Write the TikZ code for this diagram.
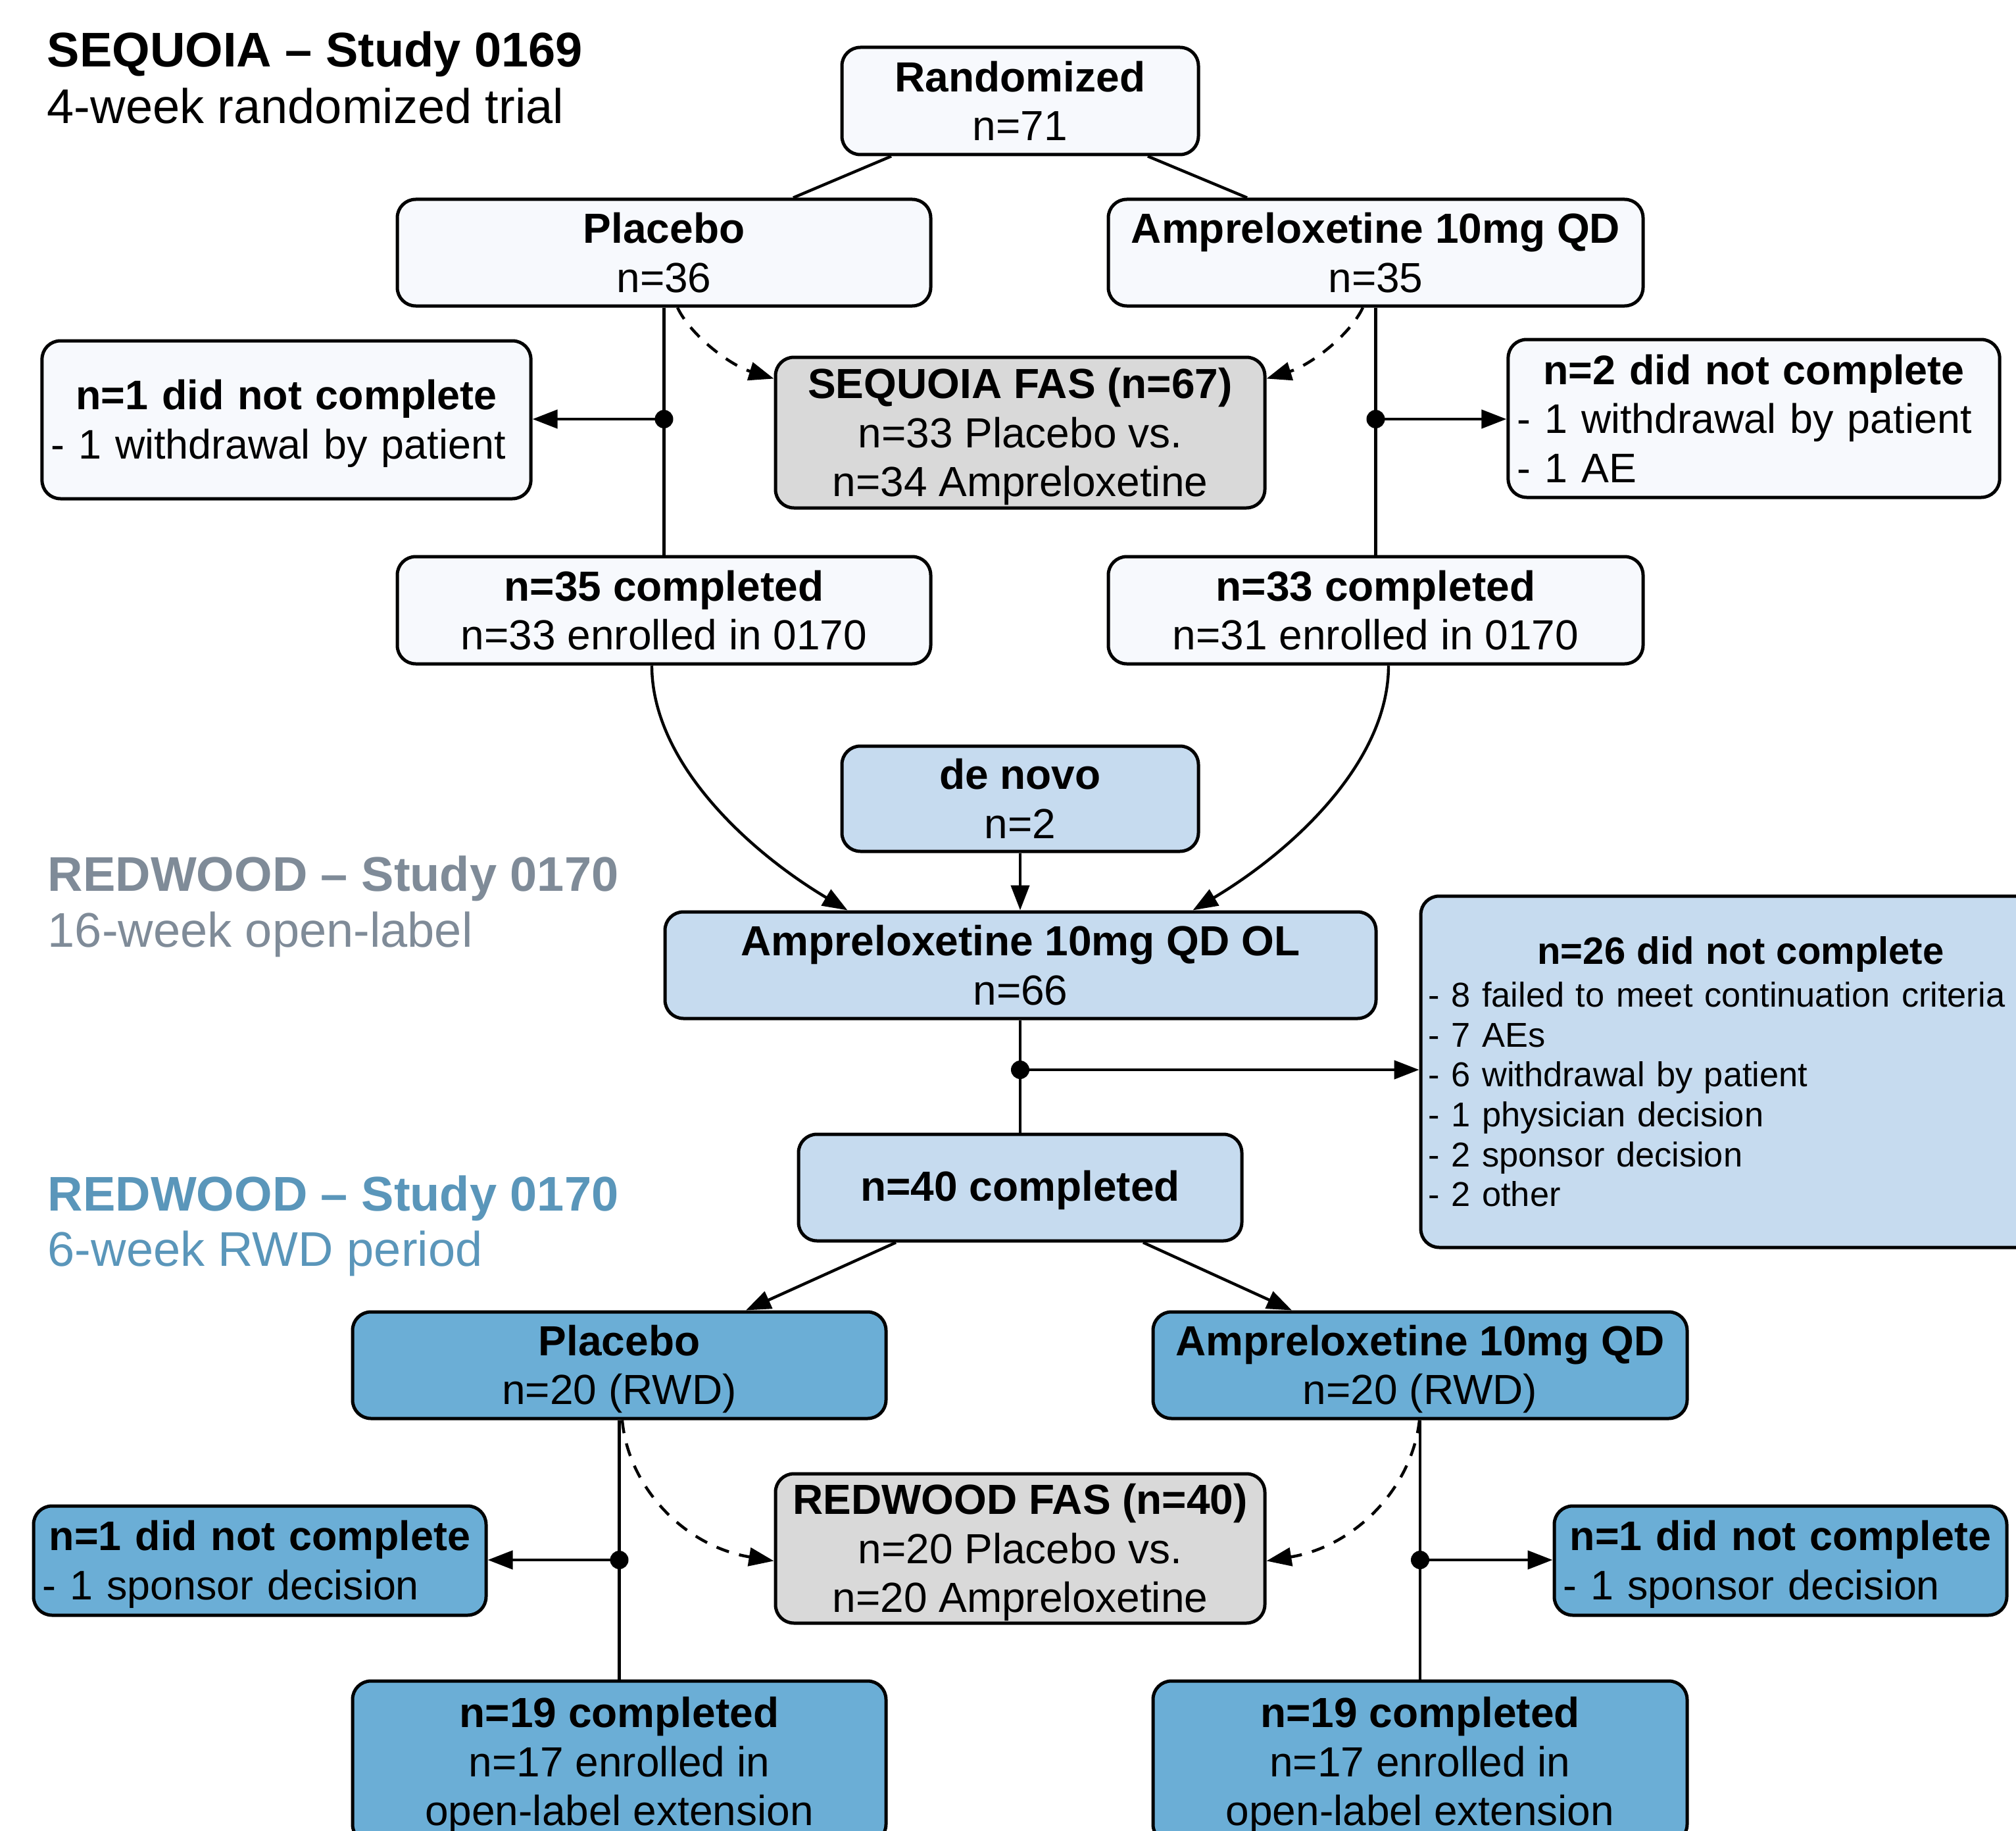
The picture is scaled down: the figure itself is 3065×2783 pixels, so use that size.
\documentclass[tikz,border=0pt]{standalone}
\usepackage{fontspec}
\setmainfont{Liberation Sans}
\usetikzlibrary{arrows.meta,calc}
\definecolor{boxlight}{HTML}{F7F9FD}
\definecolor{boxgray}{HTML}{D9D9D9}
\definecolor{boxlb}{HTML}{C6DBEF}
\definecolor{boxmb}{HTML}{6BAED6}
\definecolor{titlegray}{HTML}{7F8B98}
\definecolor{titleblue}{HTML}{5A96BA}
\newcommand\upstrut[1]{\rule{0pt}{#1}}
\begin{document}
\begin{tikzpicture}[x=0.25pt,y=-0.25pt,
  box/.style={draw=black, line width=1.25pt, rounded corners=7pt, align=center, inner sep=0pt, font=\fontsize{16}{18.6}\selectfont},
  wbox/.style={box, fill=boxlight},
  gbox/.style={box, fill=boxgray},
  lbbox/.style={box, fill=boxlb},
  mbbox/.style={box, fill=boxmb},
  listbox/.style={align=left, inner xsep=3.4pt, inner ysep=0pt, font=\fontsize{15.7}{18.6}\selectfont},
  conn/.style={line width=1.1pt},
  arr/.style={conn, -{Triangle[length=9.5pt,width=7pt]}},
  darr/.style={arr, dash pattern=on 5pt off 4pt},
  harr/.style={line width=1.2pt, -{Triangle[length=9.5pt,width=7pt]}},
  titlebf/.style={anchor=base west, inner sep=0pt, font=\fontsize{18.5}{21.5}\selectfont\bfseries},
  titlerg/.style={anchor=base west, inner sep=0pt, font=\fontsize{18.5}{21.5}\selectfont},
]
\useasboundingbox (0,0) rectangle (3065,2783);
\fill[white] (0,0) rectangle (3065,2783);
\clip (0,0) rectangle (3065,2783);

% titles
\node[titlebf] (t1a) at (71,102) {SEQUOIA – Study 0169};
\node[titlerg] (t1b) at (71,188) {4-week randomized trial};
\node[titlebf, text=titlegray] (t2a) at (72,1354) {REDWOOD – Study 0170};
\node[titlerg, text=titlegray] (t2b) at (72,1439) {16-week open-label};
\node[titlebf, text=titleblue] (t3a) at (72,1840) {REDWOOD – Study 0170};
\node[titlerg, text=titleblue] (t3b) at (72,1924) {6-week RWD period};

% SEQUOIA
\node[wbox, minimum width=135.5pt, minimum height=40.75pt] (rand) at (1551,153.5) {\textbf{Randomized}\\n=71};
\node[wbox, minimum width=202.75pt, minimum height=40.5pt] (plcA) at (1009.5,384) {\textbf{Placebo}\\n=36};
\node[wbox, minimum width=203.25pt, minimum height=40.5pt] (ampA) at (2091.5,384) {\textbf{Ampreloxetine 10mg QD}\\n=35};
\node[wbox, listbox, text width=179pt, minimum height=60pt] (dnA) at (435.5,638) {\hfill\upstrut{14.3pt}\textbf{n=1 did not complete}\hfill\null\\- 1 withdrawal by patient};
\node[gbox, minimum width=186pt, minimum height=57.25pt] (fasA) at (1551,657.5) {\upstrut{14.6pt}\textbf{SEQUOIA FAS (n=67)}\\n=33 Placebo vs.\\n=34 Ampreloxetine};
\node[wbox, listbox, text width=180pt, minimum height=60pt] (dnB) at (2666.5,636) {\hfill\textbf{n=2 did not complete}\hfill\null\\- 1 withdrawal by patient\\- 1 AE};
\node[wbox, minimum width=202.75pt, minimum height=40.75pt] (cmpA) at (1009.5,927.5) {\textbf{n=35 completed}\\n=33 enrolled in 0170};
\node[wbox, minimum width=203.25pt, minimum height=40.75pt] (cmpB) at (2091.5,927.5) {\textbf{n=33 completed}\\n=31 enrolled in 0170};

% REDWOOD OL
\node[lbbox, minimum width=135.5pt, minimum height=40pt] (denovo) at (1551,1214) {\textbf{de novo}\\n=2};
\node[lbbox, minimum width=270.25pt, minimum height=40.5pt] (ol) at (1551.5,1467) {\textbf{Ampreloxetine 10mg QD OL}\\n=66};
\node[lbbox, listbox, inner xsep=2.9pt, text width=237.4pt, minimum height=133.5pt, font=\fontsize{13.1}{15.15}\selectfont] (dnC) at (2646.5,1629) {\hfill{\fontsize{14.5}{15.15}\selectfont\bfseries n=26 did not complete}\hfill\null\\[1.1pt]- 8 failed to meet continuation criteria\\- 7 AEs\\- 6 withdrawal by patient\\- 1 physician decision\\- 2 sponsor decision\\- 2 other};
\node[lbbox, minimum width=168.5pt, minimum height=40.5pt] (n40) at (1551,1805) {\upstrut{13.7pt}\textbf{n=40 completed}};

% REDWOOD RWD
\node[mbbox, minimum width=202.75pt, minimum height=40.5pt] (plcB) at (941.5,2075) {\upstrut{14.6pt}\textbf{Placebo}\\n=20 (RWD)};
\node[mbbox, minimum width=203pt, minimum height=40.5pt] (ampB) at (2159,2075) {\upstrut{14.6pt}\textbf{Ampreloxetine 10mg QD}\\n=20 (RWD)};
\node[mbbox, listbox, text width=165.2pt, minimum height=41.5pt] (dnD) at (395,2372) {\hfill\upstrut{14.3pt}\textbf{n=1 did not complete}\hfill\null\\- 1 sponsor decision};
\node[gbox, minimum width=186pt, minimum height=56.75pt] (fasB) at (1551,2353.5) {\upstrut{14.6pt}\textbf{REDWOOD FAS (n=40)}\\n=20 Placebo vs.\\n=20 Ampreloxetine};
\node[mbbox, listbox, text width=165.2pt, minimum height=41.5pt] (dnE) at (2707,2372) {\hfill\upstrut{14.3pt}\textbf{n=1 did not complete}\hfill\null\\- 1 sponsor decision};
\node[mbbox, minimum width=202.75pt, minimum height=61.5pt] (endA) at (941.5,2678) {\upstrut{14.4pt}\textbf{n=19 completed}\\n=17 enrolled in\\open-label extension};
\node[mbbox, minimum width=203pt, minimum height=61.5pt] (endB) at (2159,2678) {\upstrut{14.4pt}\textbf{n=19 completed}\\n=17 enrolled in\\open-label extension};

% connectors SEQUOIA
\draw[conn] ($(rand.south)+(-196,0)$) -- ($(plcA.north)+(196.5,0)$);
\draw[conn] ($(rand.south)+(194,0)$) -- ($(ampA.north)+(-195.5,0)$);
\coordinate (dA) at (1009.5,637);
\coordinate (dB) at (2091.5,637);
\draw[conn] (plcA.south) -- (cmpA.north);
\draw[conn] (ampA.south) -- (cmpB.north);
\fill (dA) circle[radius=3.5pt];
\fill (dB) circle[radius=3.5pt];
\draw[harr] (dA) -- (dA -| dnA.east);
\draw[harr] (dB) -- (dB -| dnB.west);
\draw[darr] ($(plcA.south)+(20.5,0)$) .. controls (1050,510) and (1110,555) .. ($(fasA.north west)+(0,35)$);
\draw[darr] ($(ampA.south)+(-19.5,0)$) .. controls (2052,510) and (1992,555) .. ($(fasA.north east)+(0,35)$);

% to OL
\draw[arr] ($(cmpA.south)+(-18.5,0)$) .. controls (991,1160) and (1140,1295) .. ($(ol.north west)+(280,0)$);
\draw[arr] ($(cmpB.south)+(19.5,0)$) .. controls (2111,1160) and (1962,1295) .. ($(ol.north east)+(-281,0)$);
\draw[arr] (denovo.south) -- (denovo.south |- ol.north);
\coordinate (dC) at (1551,1626);
\draw[conn] (ol.south -| n40.north) -- (n40.north);
\fill (dC) circle[radius=3.5pt];
\draw[harr] (dC) -- (dC -| dnC.west);

% RWD
\draw[arr] ($(n40.south)+(-189,0)$) -- ($(plcB.north)+(192.5,0)$);
\draw[arr] ($(n40.south)+(187,0)$) -- ($(ampB.north)+(-195,0)$);
\coordinate (dD) at (941.5,2371);
\coordinate (dE) at (2159,2371);
\draw[conn] (plcB.south) -- (endA.north);
\draw[conn] (ampB.south) -- (endB.north);
\fill (dD) circle[radius=3.5pt];
\fill (dE) circle[radius=3.5pt];
\draw[harr] (dD) -- (dD -| dnD.east);
\draw[harr] (dE) -- (dE -| dnE.west);
\draw[darr] ($(plcB.south)+(4.5,0)$) .. controls (955,2260) and (1040,2350) .. ($(fasB.north west)+(0,135)$);
\draw[darr] ($(ampB.south)+(-1,0)$) .. controls (2147,2260) and (2062,2350) .. ($(fasB.north east)+(0,135)$);
\end{tikzpicture}
\end{document}
